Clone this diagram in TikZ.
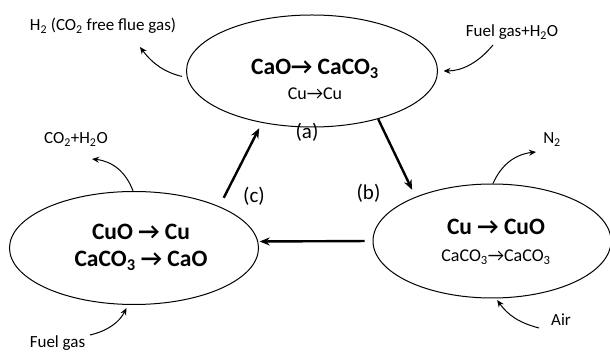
\documentclass[tikz,border=0pt]{standalone}
\usepackage{fontspec}
\setmainfont{Carlito}
\usetikzlibrary{shapes.geometric,arrows.meta}

\begin{document}
\begin{tikzpicture}[
    x=1pt, y=-1pt,
    every node/.style={font=\fontsize{17}{20}\selectfont},
    reactor/.style={draw, ellipse, line width=1pt, inner sep=0pt},
    chembig/.style={font=\fontsize{23.5}{26}\selectfont\bfseries, anchor=base},
    chemsmall/.style={font=\fontsize{18}{20}\selectfont, anchor=base},
    tag/.style={font=\fontsize{21}{24}\selectfont, anchor=base},
    stream/.style={anchor=base},
    flow/.style={-{Stealth[length=10pt,width=8pt]}, line width=2.4pt},
    gas/.style={-{Stealth[length=7pt,width=6pt]}, line width=1pt},
  ]
    \useasboundingbox (0,0) rectangle (610,352);
    %% Reactors
    \node[reactor, minimum width=251pt, minimum height=112pt] (cao) at (312,71) {};
    \node[reactor, minimum width=249pt, minimum height=113pt] (cuo) at (134,248) {};
    \node[reactor, minimum width=238pt, minimum height=114pt] (cuco) at (492,241) {};
    %% Reactions inside the reactors
    \node[chembig] (caoline) at (315,74.6) {CaO→ CaCO\textsubscript{3}};
    \node[chemsmall] (culine) at (315,99.8) {Cu→Cu};
    \node[chembig] (redline) at (141,240) {CuO → Cu};
    \node[chembig] (calcline) at (141,266.5) {CaCO\textsubscript{3} → CaO};
    \node[chembig] (oxline) at (496,234.6) {Cu → CuO};
    \node[chemsmall] (carbline) at (496,261.8) {CaCO\textsubscript{3}→CaCO\textsubscript{3}};
    %% Solids loop (a) -> (b) -> (c)
    \draw[flow, shorten >=7.8pt] (cao.324) -- (cuco.150);
    \draw[flow, shorten <=8pt, shorten >=1.5pt] (cuco.180) -- (cuo.3);
    \draw[flow, shorten <=9.6pt, shorten >=6pt] (cuo.26) -- (cao.226);
    \node[tag] (ta) at (307,139) {(a)};
    \node[tag] (tb) at (368.5,200) {(b)};
    \node[tag] (tc) at (254,203) {(c)};
    %% Gas streams in and out
    \node[stream] (h2) at (103,30.5) {H\textsubscript{2} (CO\textsubscript{2} free flue gas)};
    \node[stream] (feed) at (512,36.5) {Fuel gas+H\textsubscript{2}O};
    \node[stream] (co2) at (76,143.5) {CO\textsubscript{2}+H\textsubscript{2}O};
    \node[stream] (fuel) at (57.5,348) {Fuel gas};
    \node[stream] (n2) at (552,143.5) {N\textsubscript{2}};
    \node[stream] (air) at (561,325.5) {Air};
    \coordinate (h2tip) at (140,47);
    \coordinate (feedtail) at (493,45);
    \coordinate (co2tip) at (92,159);
    \coordinate (fueltail) at (90,335);
    \coordinate (n2tip) at (536,152);
    \coordinate (airtail) at (539,328);
    \draw[gas, shorten <=5pt] (cao.183) to[bend left=20] (h2tip);
    \draw[gas, shorten >=5.5pt] (feedtail) to[bend left=25] (cao.0);
    \draw[gas] (cuo.91) to[bend right=32] (co2tip);
    \draw[gas, shorten >=3.5pt] (fueltail) to[bend right=25] (cuo.264);
    \draw[gas] (cuco.89) to[bend left=30] (n2tip);
    \draw[gas, shorten >=2pt] (airtail) to[bend left=20] (cuco.274);
  \end{tikzpicture}
\end{document}
